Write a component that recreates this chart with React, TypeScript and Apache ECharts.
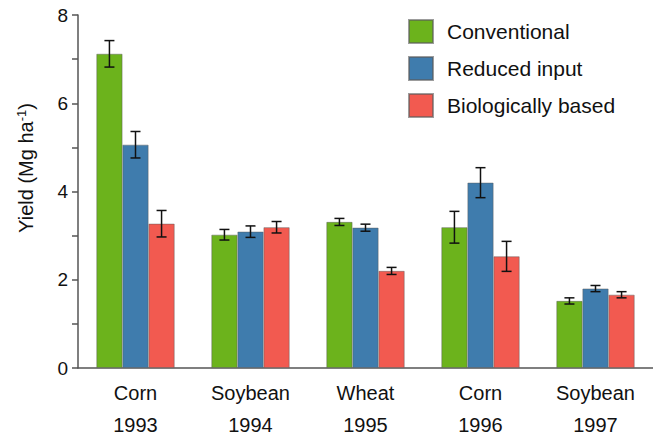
import React, { useEffect, useRef } from "react";
import * as echarts from "echarts";

const categories = ["Corn\n1993", "Soybean\n1994", "Wheat\n1995", "Corn\n1996", "Soybean\n1997"];
const seriesNames = ["Conventional", "Reduced input", "Biologically based"];
const conventional = [7.12, 3.02, 3.31, 3.19, 1.52];
const reducedInput = [5.06, 3.09, 3.18, 4.2, 1.8];
const biological = [3.27, 3.19, 2.2, 2.53, 1.66];
const conventionalErr = [0.3, 0.12, 0.08, 0.36, 0.07];
const reducedErr = [0.3, 0.13, 0.08, 0.34, 0.07];
const biologicalErr = [0.3, 0.13, 0.08, 0.34, 0.07];
const yTicks = [0, 2, 4, 6, 8];

const colors = ["#6cb31c", "#3f7cad", "#f25a50"];
const FONT = "Liberation Sans, Arial, sans-serif";
const CAT_GAP = 0.32;

export default function App() {
  const ref = useRef<HTMLDivElement>(null);
  useEffect(() => {
    if (!ref.current) return;
    const chart = echarts.init(ref.current, null, { renderer: "svg" });
    const values = [conventional, reducedInput, biological];
    const errs = [conventionalErr, reducedErr, biologicalErr];
    const errData: number[][] = [];
    values.forEach((vals, s) => {
      vals.forEach((v, i) => {
        errData.push([i, v, errs[s][i], s]);
      });
    });
    chart.setOption({
      animation: false,
      textStyle: { fontFamily: FONT },
      grid: { left: 78, top: 15, bottom: 70, width: 582 },
      legend: {
        orient: "vertical",
        left: 408,
        top: 19,
        padding: 0,
        itemWidth: 24,
        itemHeight: 23,
        itemGap: 12,
        icon: "rect",
        data: seriesNames,
        textStyle: { fontSize: 21, color: "#111", fontFamily: FONT, padding: [0, 0, 0, 9] },
      },
      graphic: [
        {
          type: "text",
          x: 26,
          y: 168,
          rotation: Math.PI / 2,
          style: {
            text: "Yield (Mg ha{sup|-1})",
            fontSize: 20,
            fontFamily: FONT,
            fill: "#111",
            align: "center",
            verticalAlign: "middle",
            rich: {
              sup: { fontSize: 13, verticalAlign: "top", padding: [0, 0, 9, 0], fill: "#111" },
            },
          },
        },
      ],
      xAxis: {
        type: "category",
        data: categories,
        axisLine: { lineStyle: { color: "#555", width: 1.5 } },
        axisTick: { show: false },
        axisLabel: {
          fontSize: 20,
          color: "#111",
          lineHeight: 32,
          margin: 9,
          fontFamily: FONT,
        },
      },
      yAxis: {
        type: "value",
        min: 0,
        max: 8,
        interval: 1,
        splitLine: { show: false },
        axisLine: { show: true, lineStyle: { color: "#555", width: 1.5 } },
        axisTick: { show: true, length: 6, lineStyle: { color: "#555", width: 1.5 } },
        axisLabel: {
          fontSize: 19,
          color: "#111",
          margin: 10,
          fontFamily: FONT,
          formatter: (v: number) => (yTicks.includes(v) ? String(v) : ""),
        },
      },
      series: [
        ...seriesNames.map((name, s) => ({
          name,
          type: "bar",
          data: values[s],
          barGap: "0%",
          barCategoryGap: CAT_GAP * 100 + "%",
          itemStyle: { color: colors[s], borderColor: "rgba(90,90,90,0.6)", borderWidth: 0.8 },
        })),
        {
          type: "custom",
          name: "err",
          data: errData,
          z: 10,
          renderItem: (params: any, api: any) => {
            const i = api.value(0);
            const v = api.value(1);
            const e = api.value(2);
            const s = api.value(3);
            const catW = api.size([1, 0])[0];
            const bw = (catW * (1 - CAT_GAP)) / 3;
            const center = api.coord([i, v]);
            const x = center[0] + (s - 1) * bw;
            const top = api.coord([i, v + e])[1];
            const bot = api.coord([i, v - e])[1];
            const cap = 5;
            const style = { stroke: "#111", lineWidth: 1.5 };
            return {
              type: "group",
              children: [
                { type: "line", shape: { x1: x, y1: top, x2: x, y2: bot }, style },
                { type: "line", shape: { x1: x - cap, y1: top, x2: x + cap, y2: top }, style },
                { type: "line", shape: { x1: x - cap, y1: bot, x2: x + cap, y2: bot }, style },
              ],
            };
          },
        },
      ],
    });
    return () => chart.dispose();
  }, []);
  return (
    <div
      ref={ref}
      style={{ position: "fixed", left: 0, top: 0, width: 653, height: 441, background: "#fff" }}
    />
  );
}
